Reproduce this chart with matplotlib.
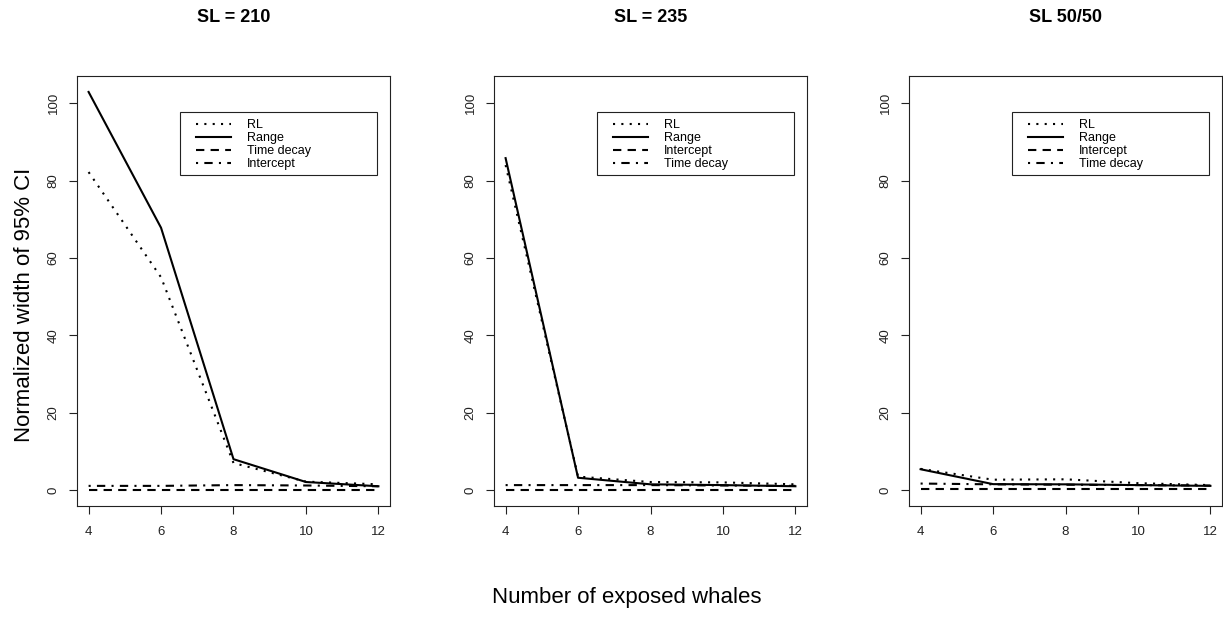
import matplotlib
matplotlib.use("Agg")
import matplotlib.pyplot as plt
from matplotlib.patches import Rectangle

plt.rcParams["font.family"] = ["Liberation Sans", "DejaVu Sans"]

# number of exposed whales
whales = [4, 6, 8, 10, 12]

# panel titles and legend labels (order of the four line styles)
titles = ["SL = 210", "SL = 235", "SL 50/50"]
labels = [
    ["RL", "Range", "Time decay", "Intercept"],
    ["RL", "Range", "Intercept", "Time decay"],
    ["RL", "Range", "Intercept", "Time decay"],
]

# normalized width of 95% CI, one list per line style (dotted, solid, dashed, dash-dot)
sl210_dotted = [82.2, 55.0, 7.0, 2.2, 1.5]
sl210_solid = [102.9, 67.8, 8.0, 2.1, 1.0]
sl210_dashed = [0.1, 0.1, 0.1, 0.1, 0.1]
sl210_dashdot = [1.1, 1.1, 1.3, 1.2, 1.0]

sl235_dotted = [84.0, 3.5, 2.1, 2.0, 1.5]
sl235_solid = [85.8, 3.2, 1.5, 1.3, 1.0]
sl235_dashed = [0.1, 0.1, 0.1, 0.1, 0.1]
sl235_dashdot = [1.3, 1.3, 1.3, 1.2, 1.1]

sl5050_dotted = [5.5, 2.7, 2.8, 1.8, 1.3]
sl5050_solid = [5.4, 1.55, 1.5, 1.3, 1.1]
sl5050_dashed = [0.2, 0.2, 0.2, 0.2, 0.2]
sl5050_dashdot = [1.7, 1.5, 1.4, 1.3, 1.2]

panels = [
    [sl210_dotted, sl210_solid, sl210_dashed, sl210_dashdot],
    [sl235_dotted, sl235_solid, sl235_dashed, sl235_dashdot],
    [sl5050_dotted, sl5050_solid, sl5050_dashed, sl5050_dashdot],
]

styles = [(0, (1, 3)), "-", (0, (4, 3)), (0, (1, 3, 4, 3))]

fig = plt.figure(figsize=(12.23, 6.17), dpi=100)
lefts = [77, 494, 909]
W, H = 1223, 617
ax_top, ax_h = 75.7, 430.3

for k in range(3):
    ax = fig.add_axes([lefts[k] / W, 1 - (ax_top + ax_h) / H, 313 / W, ax_h / H])
    for series, ls, lab in zip(panels[k], styles, labels[k]):
        ax.plot(whales, series, color="black", lw=1.5, linestyle=ls, label=lab)

    ax.set_xlim(3.68, 12.32)
    ax.set_ylim(-4.1, 107.1)
    ax.set_xticks([4, 6, 8, 10, 12])
    ax.set_yticks([0, 20, 40, 60, 80, 100])
    ax.tick_params(axis="both", direction="out", length=6, width=0.8,
                   color="#222222", labelsize=9.5, labelcolor="#222222")
    ax.tick_params(axis="x", pad=8.5)
    ax.tick_params(axis="y", pad=6.5)
    for t in ax.get_yticklabels():
        t.set_rotation(90)
        t.set_va("center")
    for s in ax.spines.values():
        s.set_linewidth(0.8)
        s.set_color("#222222")
    ax.set_title(titles[k], fontsize=13, fontweight="bold",
                 y=1 + (ax_top - 18) / ax_h, va="center", pad=0)

    # legend box drawn as a plain rectangle, like R's legend()
    ax.add_patch(Rectangle((0.329, 0.769), 0.629, 0.147, transform=ax.transAxes,
                           fill=False, edgecolor="#222222", lw=0.8, zorder=5))
    ax.legend(loc="upper left", bbox_to_anchor=(0.380, 0.899), frameon=False,
              fontsize=9, borderpad=0, borderaxespad=0, labelspacing=0.08,
              handlelength=2.8, handletextpad=1.3)

fig.text(25 / W, 1 - 305 / H, "Normalized width of 95% CI", rotation=90,
         ha="center", va="center", fontsize=16)
fig.text(627 / W, 1 - 598 / H, "Number of exposed whales",
         ha="center", va="center", fontsize=16)

fig.savefig("out.png", dpi=100)
